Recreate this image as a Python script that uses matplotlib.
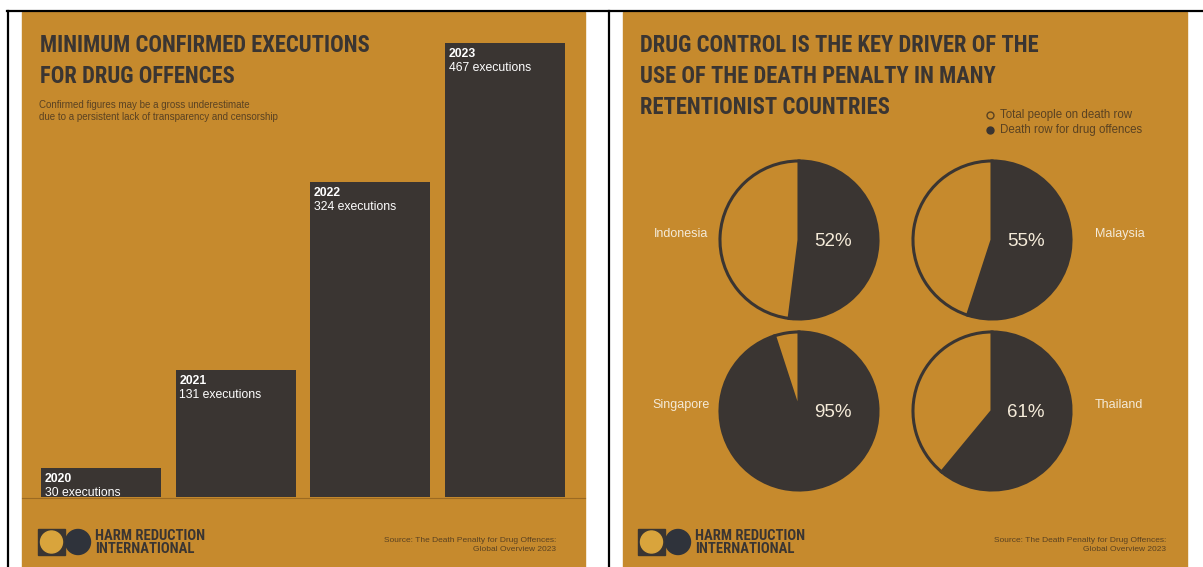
import matplotlib
matplotlib.use("Agg")
import matplotlib.pyplot as plt
from matplotlib.patches import Rectangle, Circle

W, H = 1203, 567

# data
years = ["2020", "2021", "2022", "2023"]
executions = [30, 131, 324, 467]

countries = ["Indonesia", "Malaysia", "Singapore", "Thailand"]
drug_share = [52, 55, 95, 61]  # % of death row for drug offences

ORANGE = "#c68a2d"
DARK = "#3a3532"
LIGHT = "#f4ead8"
BROWN = "#5a4222"

COND = ["Roboto Condensed", "Liberation Sans Narrow", "DejaVu Sans"]
BODY = ["Liberation Sans", "DejaVu Sans"]

fig = plt.figure(figsize=(W / 100, H / 100), dpi=100)
fig.patch.set_facecolor("white")

bg = fig.add_axes([0, 0, 1, 1])
bg.set_xlim(0, W)
bg.set_ylim(H, 0)
bg.axis("off")


def px_axes(x0, y0, x1, y1):
    return fig.add_axes([x0 / W, 1 - y1 / H, (x1 - x0) / W, (y1 - y0) / H])


def cond_text(x, y, s, size, **kw):
    return bg.text(x, y, s, family=COND, stretch="condensed", weight="bold",
                   fontsize=size, color=DARK, **kw)


def title(x, y, lines):
    # one text per line, 31 px apart
    for k, line in enumerate(lines):
        cond_text(x, y + 31 * k, line, 16.3, va="baseline")


# table borders
bg.plot([7, W], [11, 11], color="black", lw=1.6)
bg.plot([8, 8], [11, H], color="black", lw=1.6)
bg.plot([609, 609], [11, H], color="black", lw=1.6)

# the two panels
for x0, x1 in [(22, 585), (623, 1187)]:
    bg.add_patch(Rectangle((x0, 12), x1 - x0, H - 12, color=ORANGE, zorder=0))


def footer(x0, xr):
    # logo: dark square with yellow disc, then a dark disc
    bg.add_patch(Rectangle((x0, 529), 27, 26, color=DARK, zorder=2))
    bg.add_patch(Circle((x0 + 13.5, 542), 11, color="#d9a43c", zorder=3))
    bg.add_patch(Circle((x0 + 40, 542), 12.5, color="#2f333b", zorder=3))
    cond_text(x0 + 57, 529, "HARM REDUCTION\nINTERNATIONAL", 10.5, va="top",
              linespacing=0.95)
    bg.text(xr, 545, "Source: The Death Penalty for Drug Offences:\nGlobal Overview 2023",
            family=BODY, fontsize=6, color=BROWN, ha="right", va="center",
            linespacing=1.3)


# ---- left panel: bars ----
title(40, 52, ["MINIMUM CONFIRMED EXECUTIONS", "FOR DRUG OFFENCES"])
bg.text(39, 111, "Confirmed figures may be a gross underestimate\n"
        "due to a persistent lack of transparency and censorship",
        family=BODY, fontsize=7, color=BROWN, va="center", linespacing=1.25)
bg.plot([22, 585], [497.5, 497.5], color="#9c6a22", lw=0.8)

bax = px_axes(33.75, 43, 572.25, 497)
bax.set_xlim(-0.5, 3.5)
bax.set_ylim(0, max(executions))
bax.axis("off")
bw = 0.89
bax.bar(range(len(years)), executions, width=bw, color=DARK, clip_on=False)
for i, (yr, n) in enumerate(zip(years, executions)):
    bax.annotate(yr, xy=(i - bw / 2, n), xytext=(2.5, -10), textcoords="offset points",
                 family=BODY, weight="bold", fontsize=8.8, color="white", va="baseline")
    bax.annotate(f"{n} executions", xy=(i - bw / 2, n), xytext=(2.5, -20.5),
                 textcoords="offset points", family=BODY, fontsize=8.8,
                 color="white", va="baseline")

footer(38, 556)

# ---- right panel: pies ----
title(640, 52, ["DRUG CONTROL IS THE KEY DRIVER OF THE",
                "USE OF THE DEATH PENALTY IN MANY",
                "RETENTIONIST COUNTRIES"])

bg.plot([990], [115], marker="o", ms=5, mfc="none", mec=BROWN, mew=1)
bg.plot([990], [130], marker="o", ms=5, color=DARK)
bg.text(1000, 115, "Total people on death row", family=BODY, fontsize=8.3,
        color=BROWN, va="center")
bg.text(1000, 130, "Death row for drug offences", family=BODY, fontsize=8.3,
        color=BROWN, va="center")

centers = [(799, 240), (992, 240), (799, 411), (992, 411)]
label_x = [681, 1120, 681, 1119]
R = 79
for name, pct, (cx, cy), lx in zip(countries, drug_share, centers, label_x):
    ax = px_axes(cx - R - 2, cy - R - 2, cx + R + 2, cy + R + 2)
    ax.pie([pct, 100 - pct], startangle=90, counterclock=False,
           colors=[DARK, ORANGE], radius=1,
           wedgeprops=dict(edgecolor=DARK, linewidth=2.2))
    ax.set_xlim(-1.025, 1.025)
    ax.set_ylim(-1.025, 1.025)
    ax.text(0.43, -0.02, f"{pct}%", family=BODY, fontsize=13.5, color=LIGHT,
            ha="center", va="center")
    bg.text(lx, cy - 6, name, family=BODY, fontsize=9, color=LIGHT,
            ha="center", va="center")

footer(638, 1166)

fig.savefig("out.png", dpi=100, facecolor=fig.get_facecolor())
